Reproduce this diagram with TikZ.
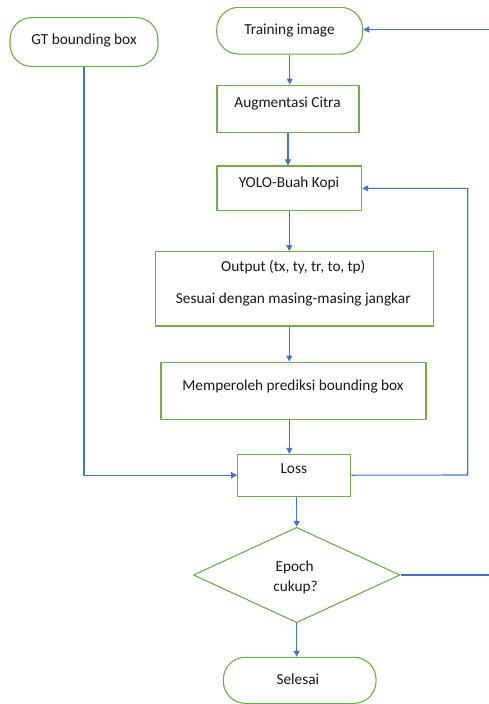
\documentclass[tikz,border=0pt]{standalone}
\usepackage{fontspec}
\setmainfont{Carlito}
\usetikzlibrary{shapes.geometric,arrows.meta}
\definecolor{hijau}{RGB}{112,173,71}
\definecolor{biru}{RGB}{68,114,196}
\begin{document}
\begin{tikzpicture}[x=1pt, y=-1pt, font=\fontsize{15.3}{18}\selectfont, line join=round, >={Triangle[length=6pt,width=6pt]},
	kotak/.style={draw=hijau, line width=1.1pt, inner sep=0pt},
	kapsul/.style={kotak, rounded corners=22pt},
	teks/.style={anchor=base, inner sep=0pt, text=black!90},
	alur/.style={draw=biru, line width=1.1pt, ->}]
	\useasboundingbox (0,0) rectangle (488,704);
	% kotak-kotak
	\node[kapsul, minimum width=148pt, minimum height=49pt] (gt) at (84,42) {};
	\node[kapsul, minimum width=146pt, minimum height=46.7pt] (train) at (289.7,30.7) {};
	\node[kotak, minimum width=142pt, minimum height=47.3pt] (aug) at (288,108.7) {};
	\node[kotak, minimum width=144.7pt, minimum height=44.7pt] (yolo) at (289.3,188.3) {};
	\node[kotak, minimum width=278pt, minimum height=74.3pt] (out) at (294.3,288.8) {};
	\node[kotak, minimum width=265pt, minimum height=57.3pt] (pred) at (293.5,390.7) {};
	\node[kotak, minimum width=113pt, minimum height=41.7pt] (loss) at (294.2,475.2) {};
	\node[kotak, diamond, minimum width=206.7pt, minimum height=95.3pt] (epoch) at (296.7,575) {};
	\node[kapsul, minimum width=152.7pt, minimum height=46pt] (selesai) at (299.7,680.3) {};
	% teks
	\node[teks] (gtteks) at (84,44.5) {GT bounding box};
	\node[teks] (trainteks) at (289.5,34.5) {Training image};
	\node[teks] (augteks) at (287.5,107) {Augmentasi Citra};
	\node[teks] (yoloteks) at (289,187.5) {YOLO-Buah Kopi};
	\node[teks] (outteksa) at (293.3,271.5) {Output (tx, ty, tr, to, tp)};
	\node[teks] (outteksb) at (293.3,303) {Sesuai dengan masing-masing jangkar};
	\node[teks] (predteks) at (293,390) {Memperoleh prediksi bounding box};
	\node[teks] (lossteks) at (293.8,473.5) {Loss};
	\node[teks] (epochteksa) at (294.7,571) {Epoch};
	\node[teks] (epochteksb) at (295.5,591) {cukup?};
	\node[teks] (selesaiteks) at (297.8,684) {Selesai};
	% titik di tepi gambar
	\coordinate (tepiatas) at (492,29.5);
	\coordinate (tepibawah) at (492,572.3);
	\coordinate (balik) at (467.7,475);
	% panah
	\draw[alur] (train.south) -- (train.south |- aug.north);
	\draw[alur] (aug.south) -- (aug.south |- yolo.north);
	\draw[alur] (yolo.south) -- (yolo.south |- out.north);
	\draw[alur] (yolo.south |- out.south) -- (yolo.south |- pred.north);
	\draw[alur] (yolo.south |- pred.south) -- (yolo.south |- loss.north);
	\draw[alur] (epoch.north |- loss.south) -- (epoch.north);
	\draw[alur] (epoch.south) -- (epoch.south |- selesai.north);
	\draw[alur] (gt.south) |- (loss.west);
	\draw[alur] (loss.east) -- (balik) |- (yolo.east);
	\draw[alur,-] (epoch.east) -- (tepibawah |- epoch.east);
	\draw[alur] (tepiatas) -- (tepiatas -| train.east);
\end{tikzpicture}
\end{document}
